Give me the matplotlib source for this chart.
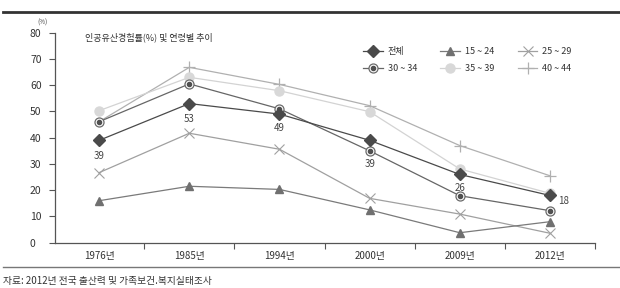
import matplotlib
matplotlib.use("Agg")
import matplotlib.pyplot as plt
from matplotlib.lines import Line2D
from matplotlib.legend_handler import HandlerTuple

plt.rcParams['font.family'] = ['Noto Sans CJK KR', 'DejaVu Sans']

#######################
# data
#######################
years = ["1976년", "1985년", "1994년", "2000년", "2009년", "2012년"]
total = [39, 53, 49, 39, 26, 18]
age15_24 = [16, 21.5, 20.3, 12.5, 3.8, 8.0]
age25_29 = [26.7, 41.7, 35.6, 16.9, 10.9, 3.6]
age30_34 = [46.1, 60.5, 51.0, 35.0, 17.9, 12.2]
age35_39 = [50.3, 63.0, 57.9, 49.9, 28.1, 18.8]
age40_44 = [46.1, 66.8, 60.3, 52.2, 37.0, 25.5]
total_labels = ["39", "53", "49", "39", "26", "18"]

x = list(range(len(years)))

fig = plt.figure(figsize=(6.2, 2.88), dpi=100)
ax = fig.add_axes([55/620, 1-242.7/288, 540/620, 210/288])

# lines (back to front)
l40, = ax.plot(x, age40_44, color="#b0b0b0", lw=0.9, marker="+", ms=9, mew=0.9,
               markevery=[1, 2, 3, 4, 5], zorder=2)
l35, = ax.plot(x, age35_39, color="#d3d3d3", lw=0.9, marker="o", ms=6.5,
               mfc="#d8d8d8", mec="#d8d8d8", zorder=2)
l25, = ax.plot(x, age25_29, color="#a0a0a0", lw=0.9, marker="x", ms=7, mew=0.8, zorder=3)
l15, = ax.plot(x, age15_24, color="#7a7a7a", lw=0.9, marker="^", ms=5.5,
               mfc="#707070", mec="#707070", zorder=3)
l30, = ax.plot(x, age30_34, color="#666666", lw=0.9, marker="o", ms=6.5,
               mfc="white", mec="#6a6a6a", mew=0.9, zorder=4)
l30d, = ax.plot(x, age30_34, ls="none", marker="o", ms=3, color="#505050", zorder=5)
lt, = ax.plot(x, total, color="#4a4a4a", lw=0.9, marker="D", ms=6.5,
              mfc="#4a4a4a", mec="#4a4a4a", zorder=6)

# data labels for total
offsets = [(0, -11), (0, -11), (0, -10), (0, -17), (0, -9.5), (10, -4)]
for xi, yi, lab, off in zip(x, total, total_labels, offsets):
    ax.annotate(lab, (xi, yi), xytext=off, textcoords="offset points",
                ha="center", va="center", fontsize=7, color="#444444")

ax.set_xlim(-0.49, 5.5)
ax.set_ylim(0, 80)
ax.set_yticks(range(0, 81, 10))
ax.set_xticks(x)
ax.set_xticklabels(years)
ax.set_xticks([i + 0.5 for i in x], minor=True)
ax.tick_params(axis="x", which="major", length=0, pad=6, labelsize=7, colors="#333333")
ax.tick_params(axis="x", which="minor", length=4, width=0.8, color="#555555")
ax.tick_params(axis="y", length=4, width=0.8, color="#555555", labelsize=7.5,
               labelcolor="#333333", pad=14)
for t in ax.get_yticklabels():
    t.set_ha("left")
for s in ["top", "right"]:
    ax.spines[s].set_visible(False)
for s in ["left", "bottom"]:
    ax.spines[s].set_color("#555555")
    ax.spines[s].set_linewidth(0.9)

fig.text(37/620, 1-23/288, "(%)", fontsize=4.5, color="#444444", ha="left", va="center")
ax.text(85/620, 1-37/288, "인공유산경험률(%) 및 연령별 추이", transform=fig.transFigure,
        fontsize=6.5, color="#333333", ha="left", va="center")

handles = [lt, (l30, l30d), l15, l35, l25, l40]
names = ["전체", "30 ~ 34", "15 ~ 24", "35 ~ 39", "25 ~ 29", "40 ~ 44"]
leg = fig.legend(handles, names, ncol=3, loc="center left",
                 bbox_to_anchor=(355/620, 1-60/288), frameon=False, fontsize=6.5,
                 handlelength=2.2, handletextpad=0.5, columnspacing=2.6,
                 labelspacing=0.9, handler_map={tuple: HandlerTuple(ndivide=1, pad=0)})
for t in leg.get_texts():
    t.set_color("#333333")

# frame lines and source
fig.add_artist(Line2D([3/620, 1], [1-12/288, 1-12/288], color="#333333", lw=2))
fig.add_artist(Line2D([3/620, 1], [1-267/288, 1-267/288], color="#777777", lw=1))
fig.text(3/620, 1-281/288, "자료: 2012년 전국 출산력 및 가족보건.복지실태조사",
         fontsize=7, color="#333333", ha="left", va="center")

fig.savefig("out.png", dpi=100)
